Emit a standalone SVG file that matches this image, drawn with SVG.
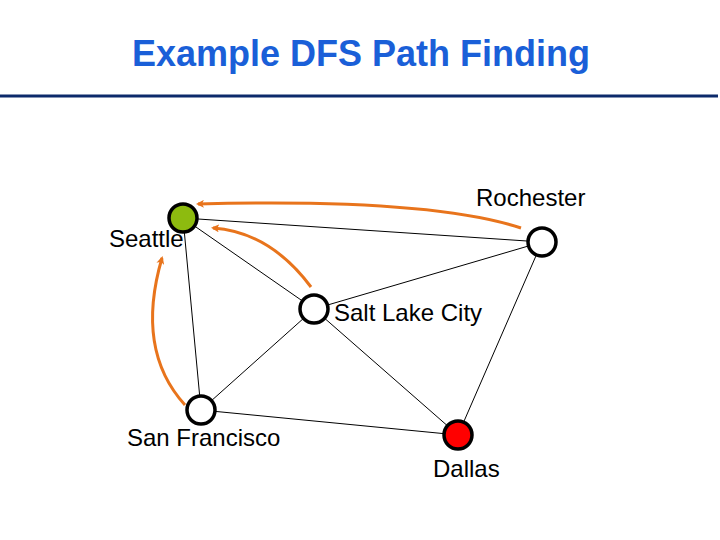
<svg xmlns="http://www.w3.org/2000/svg" width="720" height="540" viewBox="0 0 720 540">
<defs>
<marker id="ah" markerWidth="8" markerHeight="8" refX="6" refY="4" orient="auto" markerUnits="userSpaceOnUse" viewBox="0 0 8 8">
<path d="M0,0 L8,4 L0,8 L2,4 Z" fill="#e8741c"/>
</marker>
<style>
.title{font-family:"Liberation Sans",Arial,sans-serif;font-weight:bold;font-size:36px;fill:#1a5fd8}
.lbl{font-family:"Liberation Sans",Arial,sans-serif;font-size:24px;fill:#000}
.edge{stroke:#000;stroke-width:1;fill:none}
.arr{stroke:#e8741c;stroke-width:3;fill:none;marker-end:url(#ah)}
.node{stroke:#000;stroke-width:3.5}
</style>
</defs>
<rect width="720" height="540" fill="#fff"/>
<text class="title" x="361" y="66" text-anchor="middle">Example DFS Path Finding</text>
<line x1="0" y1="96" x2="718" y2="96" stroke="#0c2a6b" stroke-width="3"/>
<g id="connectors">
<line class="edge" x1="183" y1="218" x2="542" y2="242"/>
<line class="edge" x1="183" y1="218" x2="314" y2="309"/>
<line class="edge" x1="183" y1="218" x2="201" y2="410"/>
<line class="edge" x1="542" y1="242" x2="314" y2="309"/>
<line class="edge" x1="542" y1="242" x2="458" y2="435"/>
<line class="edge" x1="314" y1="309" x2="201" y2="410"/>
<line class="edge" x1="314" y1="309" x2="458" y2="435"/>
<line class="edge" x1="201" y1="410" x2="458" y2="435"/>
<path class="arr" d="M521,228 Q430,198 198,204"/>
<path class="arr" d="M311,287 Q270,232 213,228"/>
<path class="arr" d="M185,405 Q135,350 162,258"/>
</g>
<g id="seattle">
<circle class="node" cx="183" cy="218" r="14" fill="#8dbb0f"/>
<text class="lbl" x="109" y="247">Seattle</text>
</g>
<g id="rochester">
<circle class="node" cx="542" cy="242" r="14" fill="#fff"/>
<text class="lbl" x="476" y="206">Rochester</text>
</g>
<g id="saltlakecity">
<circle class="node" cx="314" cy="309" r="14" fill="#fff"/>
<text class="lbl" x="334" y="321">Salt Lake City</text>
</g>
<g id="sanfrancisco">
<circle class="node" cx="201" cy="410" r="14" fill="#fff"/>
<text class="lbl" x="127" y="446">San Francisco</text>
</g>
<g id="dallas">
<circle class="node" cx="458" cy="435" r="14" fill="#ff0000"/>
<text class="lbl" x="433" y="477">Dallas</text>
</g>
</svg>
